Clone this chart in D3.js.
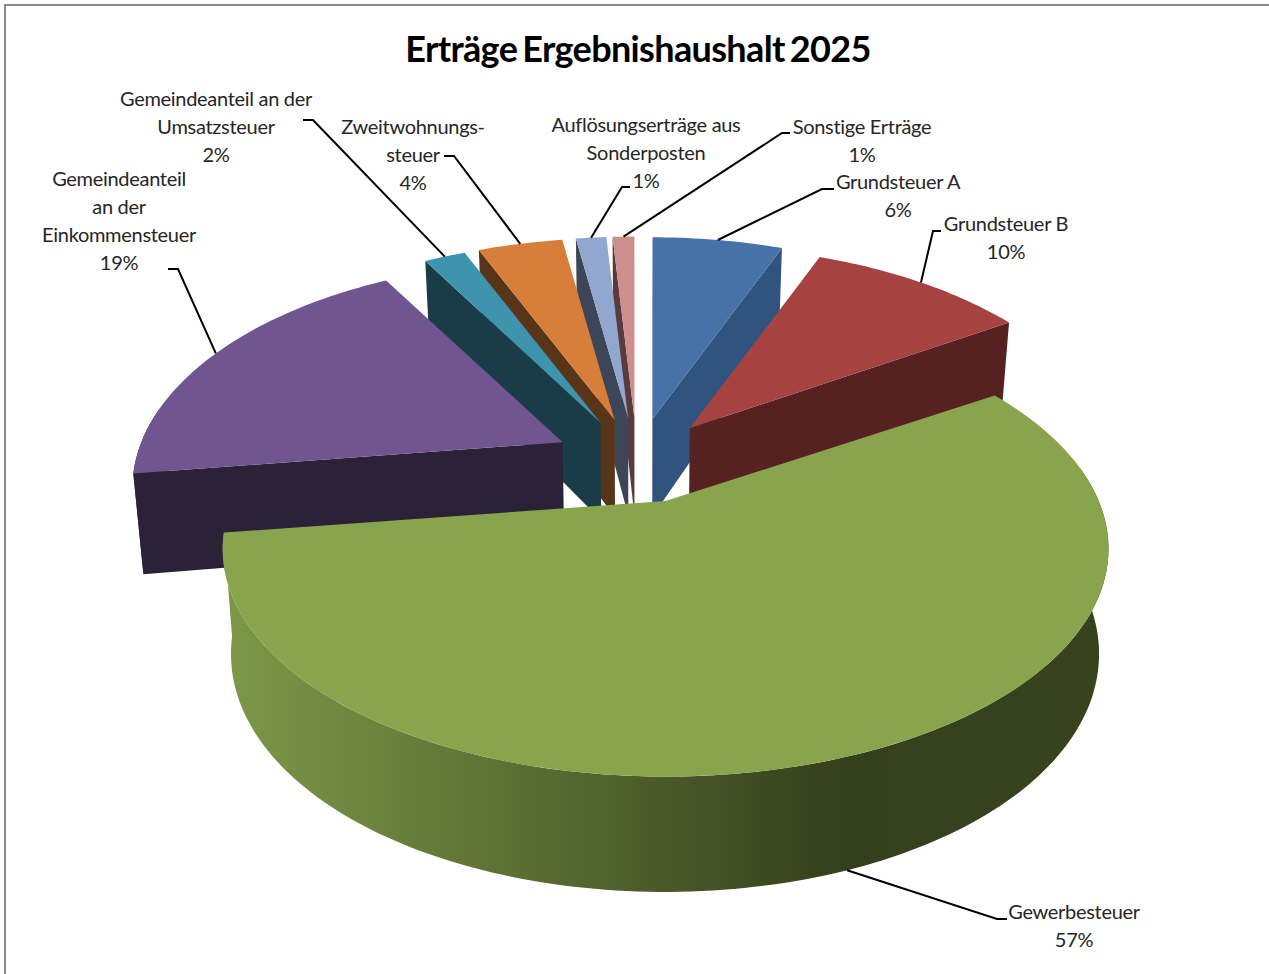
<!DOCTYPE html>
<html>
<head>
<meta charset="utf-8">
<script src="https://cdn.jsdelivr.net/npm/d3@7"></script>
<style>
html, body { margin: 0; padding: 0; background: #fff; }
svg { display: block; }
text { font-family: Lato, "Open Sans", sans-serif; fill: #262626; }
</style>
</head>
<body>
<svg width="1269" height="974"></svg>
<script>
var titleText = "Erträge Ergebnishaushalt 2025";

// Slices, clockwise from 12 o'clock.
var categories = ["Grundsteuer A", "Grundsteuer B", "Gewerbesteuer", "Gemeindeanteil an der Einkommensteuer",
    "Gemeindeanteil an der Umsatzsteuer", "Zweitwohnungssteuer", "Auflösungserträge aus Sonderposten", "Sonstige Erträge"];
var values = [6, 10, 56.7, 19, 1.9, 3.9, 1.4, 1];
var labelLines = [
    ["Grundsteuer A"],
    ["Grundsteuer B"],
    ["Gewerbesteuer"],
    ["Gemeindeanteil", "an der", "Einkommensteuer"],
    ["Gemeindeanteil an der", "Umsatzsteuer"],
    ["Zweitwohnungs-", "steuer"],
    ["Auflösungserträge aus", "Sonderposten"],
    ["Sonstige Erträge"]
];

var topColors = ["#4672a8", "#a64341", "#88a44c", "#715590", "#3f94ad", "#d77e3a", "#92a7cf", "#cf8e8e"];
var sideColors = ["#31547f", "#552121", "#38431e", "#2c2238", "#193c48", "#593517", "#3c4658", "#5a3a3a"];

// Label layout: text centre, first baseline, leader elbow and end.
var labelX = [898, 1006, 1074, 119, 216, 413, 646, 862];
var labelY = [189, 231, 919, 186, 106, 134, 132, 134];
var elbowX = [822, 933, 997, 178, 313, 454, 622, 782];
var elbowY = [189, 231, 919, 269, 120, 156, 187, 133];
var endX = [834, 941, 1007, 168, 303, 444, 630, 790];

var svg = d3.select("svg");

// Frame of the original picture, only top and left show.
svg.append("path")
    .attr("d", "M5,974V5H1269")
    .attr("fill", "none")
    .attr("stroke", "#8a8a8a")
    .attr("stroke-width", 2);

svg.append("text")
    .attr("x", 638)
    .attr("y", 62)
    .attr("text-anchor", "middle")
    .style("font-size", "36px")
    .style("font-weight", 700)
    .style("letter-spacing", "-0.65px")
    .style("word-spacing", "-3px")
    .style("fill", "#000")
    .text(titleText);

// Perspective of the tilted pie.
var cx = 637, cy = 461, R = 425, ry = 219, persp = 0.205, explode = 0.195;
var depth = 100;

// Radial part is scaled by the perspective, the explode offset is not.
// Fitted by eye: x scale also feels half of the explode, y scale does not.
function project(a, r, mid, low) {
    var u = r * Math.sin(a), v = -r * Math.cos(a);
    var ev = -explode * Math.cos(mid);
    var wx = 1 / (1 - persp * (v + ev / 2));
    var wy = 1 / (1 - persp * v);
    var x = cx + (u * wx + explode * Math.sin(mid)) * R;
    var y = cy + (v * wy + ev) * ry;
    if (low) {
        x = cx + (x - cx) * 0.98;
        y = y + depth * (1 + 0.13 * (v + ev));
    }
    return [x, y];
}

function arcPoints(a0, a1, mid, low) {
    var n = Math.max(2, Math.ceil((a1 - a0) / 0.02));
    return d3.range(n + 1).map(function (i) {
        return project(a0 + (a1 - a0) * i / n, 1, mid, low);
    });
}

var pie = d3.pie().sort(null).value(function (d) { return d; });
var slices = pie(values).map(function (d, i) {
    return {
        i: i,
        a0: d.startAngle,
        a1: d.endAngle,
        mid: (d.startAngle + d.endAngle) / 2
    };
});

var line = d3.line().curve(d3.curveLinear);
function closed(pts) { return line(pts) + "Z"; }

var wallColor = d3.scaleLinear()
    .domain([0, 0.1, 0.32, 0.7, 1])
    .range(["#7c9948", "#738c42", "#5c7134", "#343f1c", "#38431e"]);
var defs = svg.append("defs");
var grad = defs.append("linearGradient")
    .attr("id", "wallGrad")
    .attr("gradientUnits", "userSpaceOnUse")
    .attr("x1", 221).attr("x2", 1109)
    .attr("y1", 0).attr("y2", 0);
grad.selectAll("stop")
    .data(wallColor.domain())
    .enter().append("stop")
    .attr("offset", function (d) { return d; })
    .attr("stop-color", function (d) { return wallColor(d); });

// Back slices first, painter style.
var order = slices.slice().sort(function (a, b) {
    return -Math.cos(a.mid) - -Math.cos(b.mid);
});

var gPie = svg.append("g");
order.forEach(function (s) {
    var apexTop = project(0, 0, s.mid, false);
    var apexLow = project(0, 0, s.mid, true);

    // Outer wall, front half only.
    var wa0 = Math.max(s.a0, Math.PI * 0.45), wa1 = Math.min(s.a1, Math.PI * 1.55);
    if (wa1 > wa0) {
        var up = arcPoints(wa0, wa1, s.mid, false);
        var down = arcPoints(wa0, wa1, s.mid, true).reverse();
        gPie.append("path")
            .attr("d", closed(up.concat(down)))
            .attr("fill", s.i === 2 ? "url(#wallGrad)" : sideColors[s.i]);
    }

    // Cut faces, signed area tells if one looks at the viewer.
    [[s.a0, 1], [s.a1, -1]].forEach(function (f) {
        var face = [apexTop, project(f[0], 1, s.mid, false), project(f[0], 1, s.mid, true), apexLow];
        if (d3.polygonArea(face) * f[1] > 0) {
            gPie.append("path")
                .attr("d", closed(face))
                .attr("fill", sideColors[s.i]);
        }
    });

    // Top.
    gPie.append("path")
        .attr("d", closed([apexTop].concat(arcPoints(s.a0, s.a1, s.mid, false))))
        .attr("fill", topColors[s.i]);
});

// Leaders start on the rim at mid angle, Gewerbesteuer at the lower rim.
var gLabels = svg.append("g");
slices.forEach(function (s) {
    var start = project(s.mid, 1, s.mid, s.i === 2);
    gLabels.append("path")
        .attr("d", line([start, [elbowX[s.i], elbowY[s.i]], [endX[s.i], elbowY[s.i]]]))
        .attr("fill", "none")
        .attr("stroke", "#000")
        .attr("stroke-width", 2);

    var lines = labelLines[s.i].concat([d3.format(".0f")(values[s.i]) + "%"]);
    gLabels.selectAll(null)
        .data(lines)
        .enter().append("text")
        .attr("x", labelX[s.i])
        .attr("y", function (d, k) { return labelY[s.i] + k * 28; })
        .attr("text-anchor", "middle")
        .style("font-size", "20px")
        .style("letter-spacing", "-0.3px")
        .text(function (d) { return d; });
});
</script>
</body>
</html>
